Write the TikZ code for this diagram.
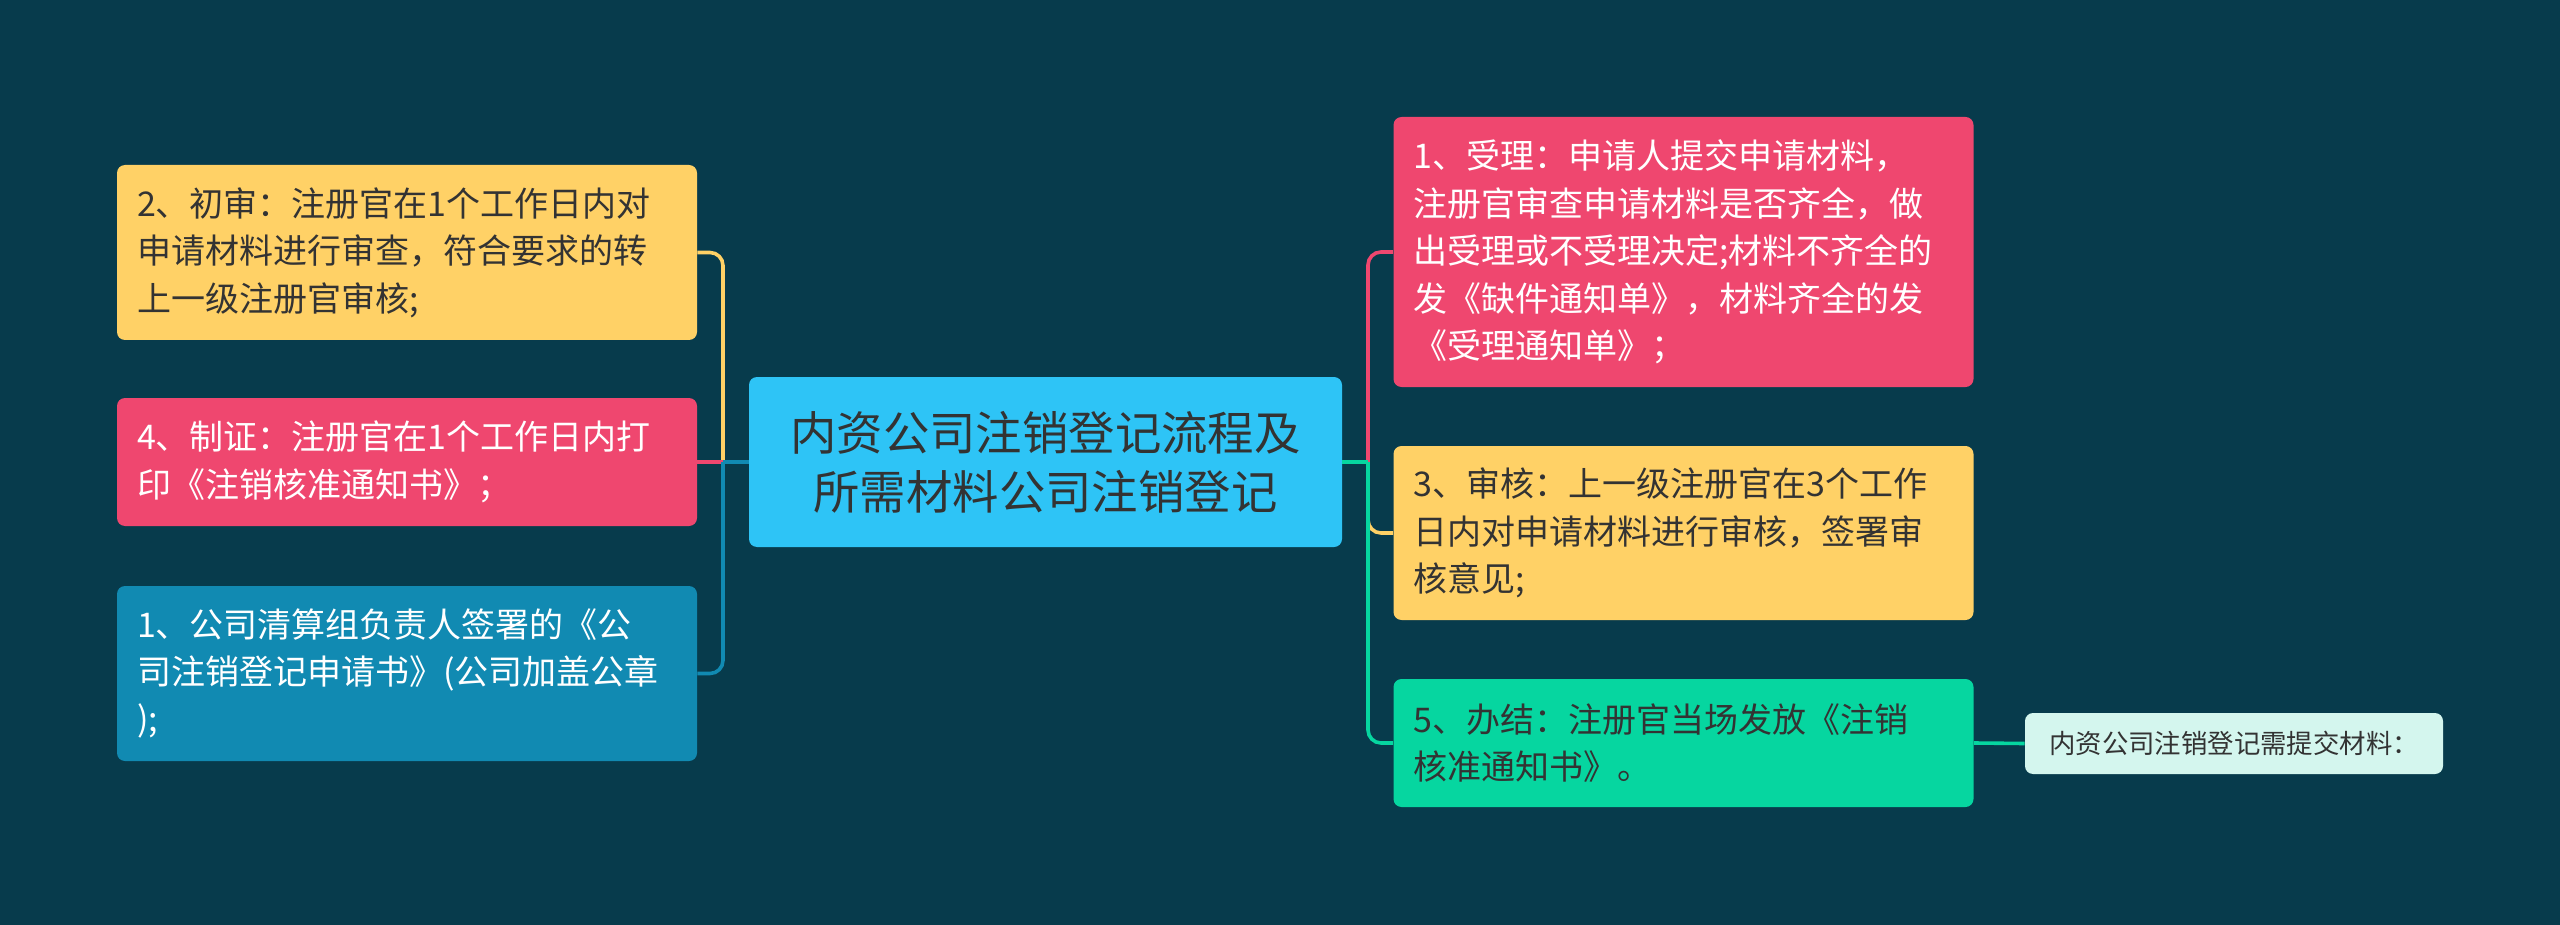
\documentclass[tikz,border=0pt]{standalone}
\usepackage{fontspec}
\setmainfont{Noto Sans CJK SC}
\definecolor{bg}{HTML}{073B4C}
\definecolor{cyanc}{HTML}{2EC4F6}
\definecolor{yel}{HTML}{FFD166}
\definecolor{pnk}{HTML}{EF476F}
\definecolor{blu}{HTML}{118AB2}
\definecolor{grn}{HTML}{06D6A0}
\definecolor{mint}{HTML}{D4F6EE}
\definecolor{dtext}{HTML}{333333}
\begin{document}
\begin{tikzpicture}[x=0.5pt,y=-0.5pt,
  box/.style={rectangle,rounded corners=4pt,minimum width=290pt,text width=270pt,inner xsep=10pt,align=left,font=\fontsize{17pt}{23.7pt}\selectfont},
  conn/.style={line width=1.8pt},
  rc/.style={conn,rounded corners=6.5pt}]
\fill[bg] (0,0) rectangle (2560,925);
\useasboundingbox (0,0) rectangle (2560,925);
\node[rectangle,rounded corners=4pt,fill=cyanc,text=dtext,minimum width=296.5pt,minimum height=85pt,align=center,font=\fontsize{23.2pt}{29.4pt}\selectfont] (c) at (1045.5,462) {内资公司注销登记流程及\\所需材料公司注销登记};
\node[box,fill=yel,text=dtext,minimum height=87.5pt] (l2) at (407,252.5) {2、初审：注册官在1个工作日内对\\申请材料进行审查，符合要求的转\\上一级注册官审核;};
\node[box,fill=pnk,text=white,minimum height=64pt] (l4) at (407,462) {4、制证：注册官在1个工作日内打\\印《注销核准通知书》；};
\node[box,fill=blu,text=white,minimum height=87.5pt] (l1) at (407,673.5) {1、公司清算组负责人签署的《公\\司注销登记申请书》(公司加盖公章\\);};
\node[box,fill=pnk,text=white,minimum height=135pt] (r1) at (1683.5,252) {1、受理：申请人提交申请材料，\\注册官审查申请材料是否齐全，做\\出受理或不受理决定;材料不齐全的\\发《缺件通知单》，材料齐全的发\\《受理通知单》；};
\node[box,fill=yel,text=dtext,minimum height=87pt] (r3) at (1683.5,533) {3、审核：上一级注册官在3个工作\\日内对申请材料进行审核，签署审\\核意见;};
\node[box,fill=grn,text=dtext,minimum height=64pt] (r5) at (1683.5,743) {5、办结：注册官当场发放《注销\\核准通知书》。};
\node[rectangle,rounded corners=4pt,fill=mint,text=dtext,minimum width=209pt,minimum height=30.5pt,font=\fontsize{13.2pt}{16pt}\selectfont] (s) at (2234,743.5) {内资公司注销登记需提交材料：};
\coordinate (jl) at (723,462);
\coordinate (jr) at (1368,462);
% left branches
\draw[conn,yel] (c.west) -- (jl);
\draw[rc,yel] (jl) |- (l2.east);
\draw[conn,pnk] (c.west) -- (jl);
\draw[conn,pnk] (jl) -- (l4.east);
\draw[conn,blu] (c.west) -- (jl);
\draw[rc,blu] (jl) |- (l1.east);
% right branches
\draw[conn,pnk] (c.east) -- (jr);
\draw[rc,pnk] (jr) |- (r1.west);
\draw[conn,yel] (c.east) -- (jr);
\draw[rc,yel] (jr) |- (r3.west);
\draw[conn,grn] (c.east) -- (jr);
\draw[rc,grn] (jr) |- (r5.west);
\draw[conn,grn] (r5.east) -- (s.west);
\end{tikzpicture}
\end{document}
